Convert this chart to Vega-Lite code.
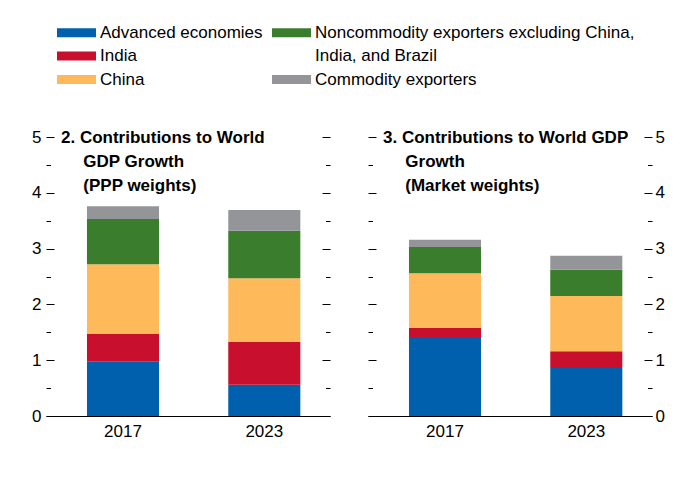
{
  "$schema": "https://vega.github.io/schema/vega-lite/v6.json",
  "background": "white",
  "padding": {"left": 31, "top": 18, "right": 5, "bottom": 5},
  "datasets": {
    "gdp": [
      {"panel": "PPP", "year": "2017", "group": "Advanced economies", "value": 0.97},
      {"panel": "PPP", "year": "2017", "group": "India", "value": 0.50},
      {"panel": "PPP", "year": "2017", "group": "China", "value": 1.25},
      {"panel": "PPP", "year": "2017", "group": "Noncommodity exporters excluding China, India, and Brazil", "value": 0.81},
      {"panel": "PPP", "year": "2017", "group": "Commodity exporters", "value": 0.23},
      {"panel": "PPP", "year": "2023", "group": "Advanced economies", "value": 0.56},
      {"panel": "PPP", "year": "2023", "group": "India", "value": 0.77},
      {"panel": "PPP", "year": "2023", "group": "China", "value": 1.14},
      {"panel": "PPP", "year": "2023", "group": "Noncommodity exporters excluding China, India, and Brazil", "value": 0.85},
      {"panel": "PPP", "year": "2023", "group": "Commodity exporters", "value": 0.37},
      {"panel": "Market", "year": "2017", "group": "Advanced economies", "value": 1.40},
      {"panel": "Market", "year": "2017", "group": "India", "value": 0.18},
      {"panel": "Market", "year": "2017", "group": "China", "value": 0.98},
      {"panel": "Market", "year": "2017", "group": "Noncommodity exporters excluding China, India, and Brazil", "value": 0.47},
      {"panel": "Market", "year": "2017", "group": "Commodity exporters", "value": 0.13},
      {"panel": "Market", "year": "2023", "group": "Advanced economies", "value": 0.86},
      {"panel": "Market", "year": "2023", "group": "India", "value": 0.30},
      {"panel": "Market", "year": "2023", "group": "China", "value": 0.99},
      {"panel": "Market", "year": "2023", "group": "Noncommodity exporters excluding China, India, and Brazil", "value": 0.47},
      {"panel": "Market", "year": "2023", "group": "Commodity exporters", "value": 0.25}
    ]
  },
  "data": {"name": "gdp"},
  "transform": [
    {"calculate": "indexof(['Advanced economies','India','China','Noncommodity exporters excluding China, India, and Brazil','Commodity exporters'], datum.group)", "as": "stackOrder"}
  ],
  "spacing": 36,
  "hconcat": [
    {
      "width": 284,
      "height": 279,
      "title": {
        "text": ["2. Contributions to World", "\u200b\u00a0\u00a0\u00a0\u00a0\u2009GDP Growth", "\u200b\u00a0\u00a0\u00a0\u00a0\u2009(PPP weights)"],
        "anchor": "start",
        "frame": "group",
        "dx": 15,
        "offset": -67
      },
      "transform": [{"filter": "datum.panel == 'PPP'"}],
      "layer": [
        {
          "mark": {"type": "bar"},
          "encoding": {
            "x": {"field": "year", "type": "nominal", "scale": {"paddingInner": 0.49, "paddingOuter": 0.25, "align": 0.58},
                  "axis": {"title": null, "labelAngle": 0, "ticks": false, "domain": true, "domainColor": "#000000", "domainWidth": 1.2, "labelPadding": 7, "labelFontSize": 17, "labelColor": "#000000"}},
            "y": {"field": "value", "type": "quantitative", "stack": "zero", "scale": {"domain": [0, 5], "nice": false},
                  "axis": {"orient": "left", "title": null, "values": [0, 0.5, 1, 1.5, 2, 2.5, 3, 3.5, 4, 4.5, 5], "labelExpr": "datum.value % 1 == 0 ? format(datum.value, 'd') : ''", "domain": false, "grid": false,
                           "tickSize": {"condition": {"test": "datum.value % 1 == 0", "value": -8}, "value": -4.5},
                           "tickColor": "#000000", "labelPadding": 13, "labelFontSize": 17, "labelColor": "#000000"}},
            "color": {"field": "group", "type": "nominal",
                      "scale": {"domain": ["Advanced economies", "India", "China", "Noncommodity exporters excluding China, India, and Brazil", "India, and Brazil", "Commodity exporters"],
                                "range": ["#0060AE", "#C8102E", "#FDB95A", "#3A7D2D", "rgba(255,255,255,0)", "#939598"]},
                      "legend": {"labelExpr": "datum.label == 'Noncommodity exporters excluding China, India, and Brazil' ? 'Noncommodity exporters excluding China,' : datum.label"}},
            "order": {"field": "stackOrder", "type": "quantitative"}
          }
        },
        {
          "mark": {"type": "bar", "opacity": 0},
          "encoding": {
            "x": {"field": "year", "type": "nominal"},
            "y": {"field": "value", "type": "quantitative", "stack": "zero",
                  "axis": {"orient": "right", "title": null, "values": [0, 0.5, 1, 1.5, 2, 2.5, 3, 3.5, 4, 4.5, 5], "labels": false, "domain": false, "grid": false,
                           "tickSize": {"condition": {"test": "datum.value % 1 == 0", "value": -8}, "value": -4.5},
                           "tickColor": "#000000"}},
            "color": {"field": "group", "type": "nominal"},
            "order": {"field": "stackOrder", "type": "quantitative"}
          }
        }
      ],
      "resolve": {"axis": {"y": "independent"}}
    },
    {
      "width": 284,
      "height": 279,
      "title": {
        "text": ["3. Contributions to World GDP", "\u200b\u00a0\u00a0\u00a0\u00a0\u2009Growth", "\u200b\u00a0\u00a0\u00a0\u00a0\u2009(Market weights)"],
        "anchor": "start",
        "frame": "group",
        "dx": 15,
        "offset": -67
      },
      "transform": [{"filter": "datum.panel == 'Market'"}],
      "layer": [
        {
          "mark": {"type": "bar"},
          "encoding": {
            "x": {"field": "year", "type": "nominal", "scale": {"paddingInner": 0.49, "paddingOuter": 0.25, "align": 0.58},
                  "axis": {"title": null, "labelAngle": 0, "ticks": false, "domain": true, "domainColor": "#000000", "domainWidth": 1.2, "labelPadding": 7, "labelFontSize": 17, "labelColor": "#000000"}},
            "y": {"field": "value", "type": "quantitative", "stack": "zero", "scale": {"domain": [0, 5], "nice": false},
                  "axis": {"orient": "right", "title": null, "values": [0, 0.5, 1, 1.5, 2, 2.5, 3, 3.5, 4, 4.5, 5], "labelExpr": "datum.value % 1 == 0 ? format(datum.value, 'd') : ''", "domain": false, "grid": false,
                           "tickSize": {"condition": {"test": "datum.value % 1 == 0", "value": -8}, "value": -4.5},
                           "tickColor": "#000000", "labelPadding": 11, "labelFontSize": 17, "labelColor": "#000000"}},
            "color": {"field": "group", "type": "nominal"},
            "order": {"field": "stackOrder", "type": "quantitative"}
          }
        },
        {
          "mark": {"type": "bar", "opacity": 0},
          "encoding": {
            "x": {"field": "year", "type": "nominal"},
            "y": {"field": "value", "type": "quantitative", "stack": "zero",
                  "axis": {"orient": "left", "title": null, "values": [0, 0.5, 1, 1.5, 2, 2.5, 3, 3.5, 4, 4.5, 5], "labels": false, "domain": false, "grid": false,
                           "tickSize": {"condition": {"test": "datum.value % 1 == 0", "value": -8}, "value": -4.5},
                           "tickColor": "#000000"}},
            "color": {"field": "group", "type": "nominal"},
            "order": {"field": "stackOrder", "type": "quantitative"}
          }
        }
      ],
      "resolve": {"axis": {"y": "independent"}}
    }
  ],
  "resolve": {"scale": {"color": "shared"}},
  "config": {
    "font": "Liberation Sans",
    "view": {"stroke": null},
    "title": {"fontSize": 17, "fontWeight": "bold", "color": "#000000", "lineHeight": 24, "font": "Liberation Sans"},
    "axis": {"labelFont": "Liberation Sans"},
    "legend": {
      "orient": "none",
      "legendX": 16,
      "legendY": -119,
      "columns": 2,
      "title": null,
      "symbolType": "M-1.345,-0.31L1.345,-0.31L1.345,0.31L-1.345,0.31Z",
      "symbolSize": 841,
      "symbolStrokeWidth": 0,
      "labelFont": "Liberation Sans",
      "labelFontSize": 17,
      "labelColor": "#000000",
      "labelLimit": 500,
      "labelOffset": 9,
      "columnPadding": 8,
      "rowPadding": 0.5
    }
  }
}
